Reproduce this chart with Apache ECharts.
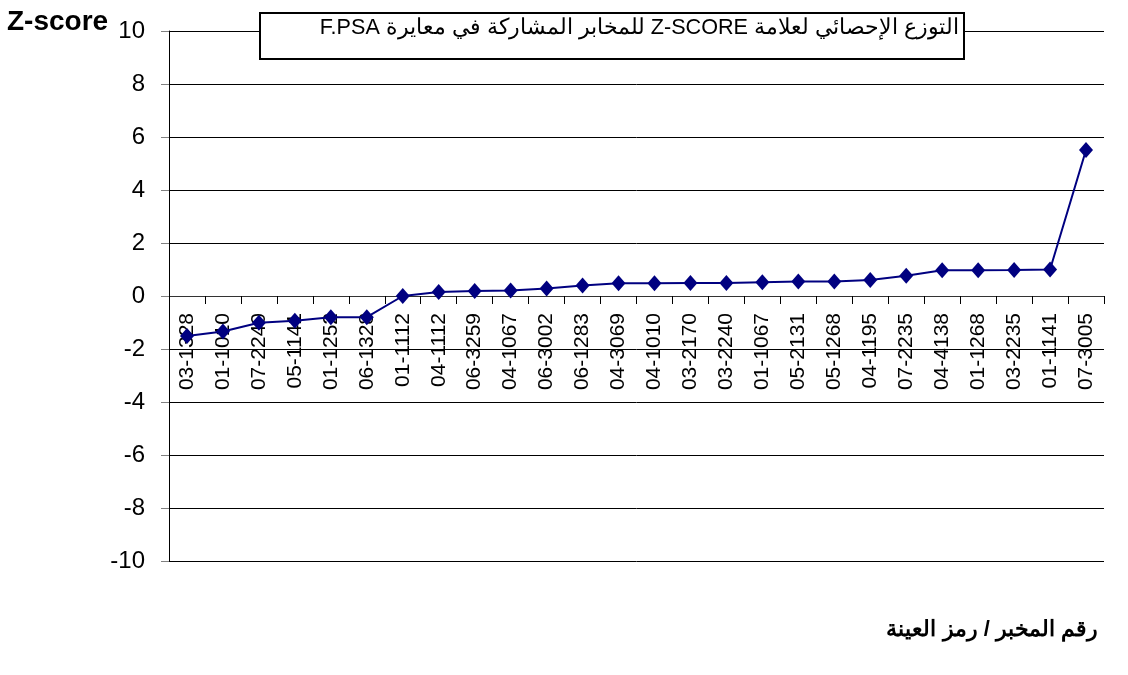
<!DOCTYPE html>
<html>
<head>
<meta charset="utf-8">
<script src="https://cdn.jsdelivr.net/npm/echarts@6/dist/echarts.min.js"></script>
<style>
  html, body { margin: 0; padding: 0; background: #fff; }
  #chart { width: 1128px; height: 675px; }
</style>
</head>
<body>
<div id="chart"></div>
<script>
// رموز المخابر / العينات
const labCodes = [
  '03-1328', '01-1010', '07-2240', '05-1141', '01-1252', '06-1328',
  '01-1112', '04-1112', '06-3259', '04-1067', '06-3002', '06-1283',
  '04-3069', '04-1010', '03-2170', '03-2240', '01-1067', '05-2131',
  '05-1268', '04-1195', '07-2235', '04-4138', '01-1268', '03-2235',
  '01-1141', '07-3005'
];
// قيم Z-score
const zScores = [
  -1.51, -1.34, -1.01, -0.93, -0.8, -0.8,
  0, 0.15, 0.19, 0.21, 0.28, 0.4,
  0.48, 0.48, 0.49, 0.49, 0.52, 0.55,
  0.55, 0.6, 0.76, 0.97, 0.97, 0.98,
  1.0, 5.51
];
const yTicks = { min: -10, max: 10, step: 2 };

const titleText = 'التوزع الإحصائي لعلامة Z-SCORE للمخابر المشاركة في معايرة F.PSA';
const xName = 'رقم المخبر / رمز العينة';

const FONT = 'Liberation Sans, Arial, sans-serif';
const gridTop = 31, gridBottom = 114, chartH = 675;
// move the category axis up to the zero line
const plotH = chartH - gridTop - gridBottom;
const zeroOffset = -plotH * (0 - yTicks.min) / (yTicks.max - yTicks.min);

const chart = echarts.init(document.getElementById('chart'));
chart.setOption({
  backgroundColor: '#fff',
  animation: false,
  textStyle: { fontFamily: FONT },
  grid: { left: 169, right: 24, top: gridTop, bottom: gridBottom, containLabel: false },
  xAxis: {
    type: 'category',
    data: labCodes,
    boundaryGap: true,
    offset: zeroOffset,
    axisLine: { onZero: false, lineStyle: { color: '#333', width: 1 } },
    axisTick: { show: true, inside: false, length: 8, interval: 0, lineStyle: { color: '#000' } },
    axisLabel: {
      interval: 0,
      rotate: 90,
      margin: 17,
      color: '#000',
      fontSize: 21,
      fontFamily: FONT
    },
    splitLine: { show: false }
  },
  yAxis: {
    type: 'value',
    min: yTicks.min,
    max: yTicks.max,
    interval: yTicks.step,
    axisLine: { show: true, lineStyle: { color: '#000', width: 1 } },
    axisTick: { show: true, length: 8, lineStyle: { color: '#808080' } },
    axisLabel: {
      color: '#000',
      fontSize: 24,
      margin: 24,
      fontFamily: FONT
    },
    splitLine: { show: true, lineStyle: { color: '#000', width: 1 } }
  },
  series: [{
    type: 'line',
    data: zScores,
    symbol: 'diamond',
    symbolSize: [14, 16],
    lineStyle: { color: '#000080', width: 2 },
    itemStyle: { color: '#000080' },
    z: 5
  }],
  graphic: [
    {
      type: 'rect',
      shape: { x: 260, y: 13, width: 704, height: 46 },
      style: { fill: '#fff', stroke: '#000', lineWidth: 2 },
      z: 100
    },
    {
      type: 'text',
      x: 959, y: 28,
      style: {
        text: '\u202B' + titleText + '\u202C',
        fill: '#000',
        font: '21.6px "Liberation Sans", Arial, sans-serif',
        textAlign: 'right',
        textVerticalAlign: 'middle'
      },
      z: 101
    },
    {
      type: 'text',
      x: 7, y: 22,
      style: {
        text: 'Z-score',
        fill: '#000',
        font: 'bold 28px "Liberation Sans", Arial, sans-serif',
        textAlign: 'left',
        textVerticalAlign: 'middle'
      }
    },
    {
      type: 'text',
      x: 1098, y: 630,
      style: {
        text: xName,
        fill: '#000',
        font: 'bold 22px "Liberation Sans", Arial, sans-serif',
        textAlign: 'right',
        textVerticalAlign: 'middle'
      }
    }
  ]
});
</script>
</body>
</html>
